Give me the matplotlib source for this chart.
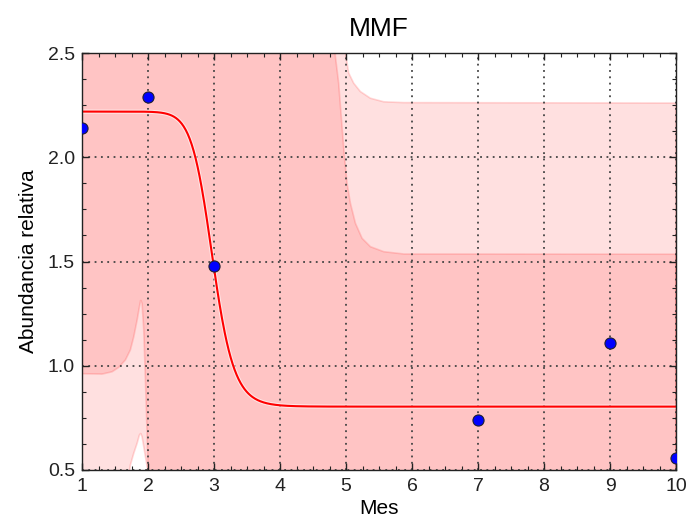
import numpy as np
import matplotlib
matplotlib.use("Agg")
import matplotlib.pyplot as plt
import matplotlib.patheffects as pe
from matplotlib.ticker import AutoMinorLocator, MultipleLocator, FormatStrFormatter

plt.rcParams['font.family'] = ['Liberation Sans', 'DejaVu Sans']

# Observed data
mes = [1, 2, 3, 7, 9, 10]
abundancia = [2.14, 2.29, 1.48, 0.74, 1.11, 0.556]

# MMF fit parameters: y = (a*b + c*x^d) / (b + x^d)
a_fit = 2.219
c_fit = 0.804
mid_fit = 2.98
d_fit = 18.4

# Confidence band edges
conf_up_x = [1.0, 4.78, 4.839, 4.889, 4.94, 4.976, 5.016, 5.067, 5.143, 5.244, 5.37, 5.572, 5.876, 10.0]
conf_up_y = [3.0, 2.80, 2.484, 2.355, 2.147, 2.003, 1.875, 1.779, 1.683, 1.611, 1.571, 1.547, 1.536, 1.535]
conf_lo_x = [1.0, 1.303, 1.455, 1.556, 1.658, 1.733, 1.784, 1.835, 1.870, 1.890, 1.910, 1.936, 1.961,
             1.986, 2.0, 2.02, 10.0]
conf_lo_y = [0.962, 0.960, 0.971, 0.992, 1.028, 1.076, 1.139, 1.219, 1.283, 1.315, 1.299, 1.171, 0.932,
             0.676, 0.516, 0.2, 0.2]

# Prediction band edges
pred_up_x = [1.0, 4.96, 5.0, 5.041, 5.117, 5.218, 5.37, 5.572, 5.876, 10.0]
pred_up_y = [3.0, 2.70, 2.484, 2.404, 2.355, 2.315, 2.283, 2.266, 2.262, 2.26]
pred_lo_x = [1.0, 1.70, 1.733, 1.784, 1.835, 1.870, 1.890, 1.910, 1.936, 1.961, 1.991, 2.01, 10.0]
pred_lo_y = [0.2, 0.45, 0.524, 0.580, 0.628, 0.668, 0.676, 0.660, 0.612, 0.564, 0.508, 0.2, 0.2]

fig = plt.figure(figsize=(6.88, 5.22), dpi=100)
ax = fig.add_axes([82 / 688, 1 - 470 / 522, (676 - 82) / 688, (470 - 53) / 522])

band_face = (1.0, 0.0, 0.0, 0.12)
band_edge = (1.0, 0.0, 0.0, 0.15)

for ux, uy, lx, ly in [(conf_up_x, conf_up_y, conf_lo_x, conf_lo_y),
                       (pred_up_x, pred_up_y, pred_lo_x, pred_lo_y)]:
    poly_x = list(ux) + list(lx)[::-1]
    poly_y = list(uy) + list(ly)[::-1]
    ax.fill(poly_x, poly_y, facecolor=band_face, edgecolor=band_edge, lw=1.2, zorder=1)

# fitted curve
xx = np.linspace(1, 10, 900)
b_fit = mid_fit ** d_fit
yy = (a_fit * b_fit + c_fit * xx ** d_fit) / (b_fit + xx ** d_fit)
ax.plot(xx, yy, color='#ff0000', lw=1.5, zorder=2,
        path_effects=[pe.Stroke(linewidth=3, foreground='white', alpha=0.6), pe.Normal()])

ax.plot(mes, abundancia, 'o', color='#0000ff', markersize=8,
        markeredgecolor='#202030', markeredgewidth=0.8, zorder=3)

ax.set_xlim(1, 10)
ax.set_ylim(0.5, 2.5)
ax.xaxis.set_major_locator(MultipleLocator(1))
ax.yaxis.set_major_locator(MultipleLocator(0.5))
ax.xaxis.set_minor_locator(AutoMinorLocator(4))
ax.yaxis.set_minor_locator(AutoMinorLocator(4))
ax.yaxis.set_major_formatter(FormatStrFormatter('%.1f'))

ax.tick_params(which='both', direction='in', top=True, right=True, colors='#222222')
ax.tick_params(which='major', length=5, width=1, labelsize=14, pad=6)
ax.tick_params(which='minor', length=3, width=0.8)
ax.tick_params(axis='y', pad=5)

ax.grid(True, which='major', color='#444444', linestyle=(0, (1, 2.5)), linewidth=1.3)
for s in ax.spines.values():
    s.set_color('#222222')
    s.set_linewidth(1.0)

ax.set_title('MMF', fontsize=19, pad=12)
ax.set_xlabel('Mes', fontsize=15, labelpad=3)
ax.set_ylabel('Abundancia relativa', fontsize=15, labelpad=7)

fig.savefig('out.png', dpi=100)
